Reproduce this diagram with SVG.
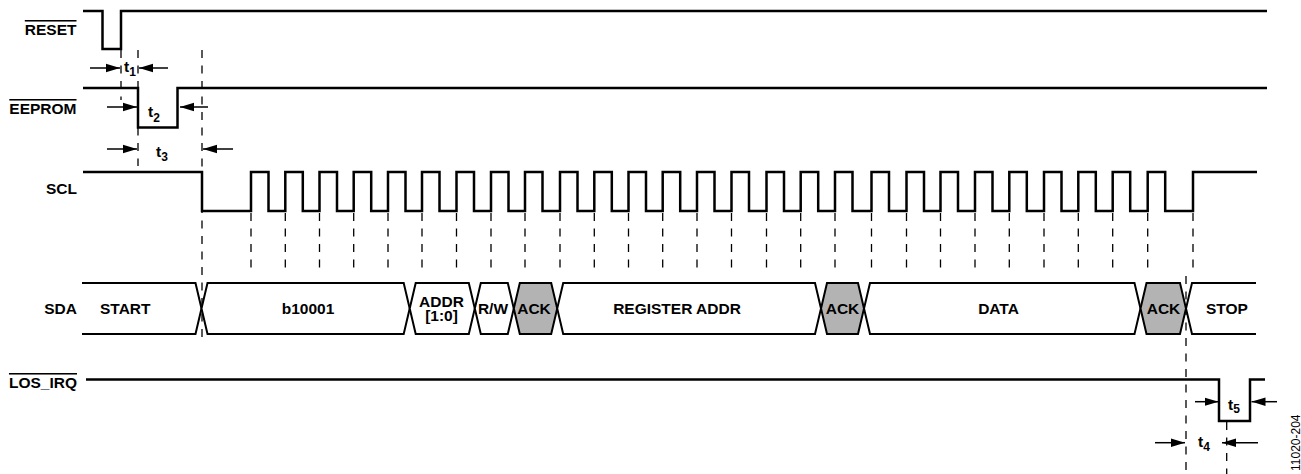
<svg xmlns="http://www.w3.org/2000/svg" width="1301" height="474" viewBox="0 0 1301 474">
<style>
.lbl{font-family:"Liberation Sans",Arial,sans-serif;font-weight:bold;font-size:15.5px;fill:#000}
.r{text-anchor:end}
.m{text-anchor:middle}
.ov{text-decoration:overline}
.sub{font-size:12px}
.sig{fill:none;stroke:#000;stroke-width:2.5;stroke-linejoin:miter}
.bus{fill:#fff;stroke:#000;stroke-width:2;stroke-linejoin:miter}
.ack{fill:#b3b3b3}
.dash{fill:none;stroke:#000;stroke-width:1.3;stroke-dasharray:8 7.5}
.arr{fill:none;stroke:#000;stroke-width:1.5;marker-end:url(#ah)}
.code{font-family:"Liberation Sans",Arial,sans-serif;font-size:12px;fill:#000}
</style>
<defs>
<marker id="ah" markerUnits="userSpaceOnUse" markerWidth="14" markerHeight="10" refX="14" refY="5" orient="auto">
<path d="M0,0.8 L14,5 L0,9.2 Z" fill="#000"/>
</marker>
</defs>
<rect width="1301" height="474" fill="#fff"/>

<g id="reset">
<text class="lbl r ov" x="76.5" y="35">RESET</text>
<path class="sig" d="M83,11 H102.5 V49 H121 V11 H1267"/>
</g>

<g id="eeprom">
<text class="lbl r ov" x="76.5" y="114">EEPROM</text>
<path class="sig" d="M83,88 H138 V127.5 H177.5 V88 H1267"/>
</g>

<g id="scl">
<text class="lbl r" x="77" y="194">SCL</text>
<path class="sig" d="M83,172 H202 V211 H251 V172 H268.5 V211 H285.3 V172 H302.8 V211 H319.5 V172 H337 V211 H353.7 V172 H371.2 V211 H388 V172 H405.5 V211 H422 V172 H439.5 V211 H456.5 V172 H474 V211 H491 V172 H508.5 V211 H525 V172 H542.5 V211 H560 V172 H577.5 V211 H594.3 V172 H611.8 V211 H628.5 V172 H646 V211 H662.7 V172 H680.2 V211 H697 V172 H714.5 V211 H731.5 V172 H749 V211 H766.5 V172 H784 V211 H800.7 V172 H818.2 V211 H835 V172 H852.5 V211 H871.5 V172 H889 V211 H906.5 V172 H924 V211 H940.5 V172 H958 V211 H975 V172 H992.5 V211 H1009.3 V172 H1026.8 V211 H1044 V172 H1061.5 V211 H1078.3 V172 H1095.8 V211 H1112.7 V172 H1130.2 V211 H1147.7 V172 H1165.2 V211 H1193 V172 H1257"/>
</g>

<g id="sda">
<text class="lbl r" x="77" y="314">SDA</text>
<g id="seg-start"><path class="bus" d="M82,283 H195.5 L201.5,308.5 L195.5,334 H82" fill="none"/><text class="lbl" x="100" y="314">START</text></g>
<g id="seg-b10001"><path class="bus" d="M207.5,283 H403.7 L409.7,308.5 L403.7,334 H207.5 L201.5,308.5 Z"/><text class="lbl m" x="308" y="314">b10001</text></g>
<g id="seg-addr"><path class="bus" d="M415.7,283 H468.8 L474.8,308.5 L468.8,334 H415.7 L409.7,308.5 Z"/><text class="lbl m" x="441.5" y="306.5">ADDR</text><text class="lbl m" x="441.5" y="321">[1:0]</text></g>
<g id="seg-rw"><path class="bus" d="M480.8,283 H507.8 L513.8,308.5 L507.8,334 H480.8 L474.8,308.5 Z"/><text class="lbl m" x="493" y="314">R/W</text></g>
<g id="seg-ack1"><path class="bus ack" d="M519.8,283 H551.2 L557.2,308.5 L551.2,334 H519.8 L513.8,308.5 Z"/><text class="lbl m" x="534" y="314">ACK</text></g>
<g id="seg-regaddr"><path class="bus" d="M563.2,283 H815 L821,308.5 L815,334 H563.2 L557.2,308.5 Z"/><text class="lbl m" x="677" y="314">REGISTER ADDR</text></g>
<g id="seg-ack2"><path class="bus ack" d="M827,283 H858 L864,308.5 L858,334 H827 L821,308.5 Z"/><text class="lbl m" x="842.5" y="314">ACK</text></g>
<g id="seg-data"><path class="bus" d="M870,283 H1134.5 L1140.5,308.5 L1134.5,334 H870 L864,308.5 Z"/><text class="lbl m" x="998.5" y="314">DATA</text></g>
<g id="seg-ack3"><path class="bus ack" d="M1146.5,283 H1180 L1186,308.5 L1180,334 H1146.5 L1140.5,308.5 Z"/><text class="lbl m" x="1163.5" y="314">ACK</text></g>
<g id="seg-stop"><path class="bus" d="M1256,283 H1192 L1186,308.5 L1192,334 H1256" fill="none"/><text class="lbl m" x="1227" y="314">STOP</text></g>
</g>

<g id="losirq">
<text class="lbl r ov" x="77" y="388">LOS_IRQ</text>
<path class="sig" d="M86,379.5 H1219 V421 H1250 V379.5 H1265"/>
</g>

<g id="connectors">
<path class="dash" d="M121,50 V100 M138,50 V166 M202,50 V341"/>
<path class="dash" d="M251,213 V272 M285.3,213 V272 M319.5,213 V272 M353.7,213 V272 M388,213 V272 M422,213 V272 M456.5,213 V272 M491,213 V272 M525,213 V272 M560,213 V272 M594.3,213 V272 M628.5,213 V272 M662.7,213 V272 M697,213 V272 M731.5,213 V272 M766.5,213 V272 M800.7,213 V272 M835,213 V272 M871.5,213 V272 M906.5,213 V272 M940.5,213 V272 M975,213 V272 M1009.3,213 V272 M1044,213 V272 M1078.3,213 V272 M1112.7,213 V272 M1147.7,213 V272 M1193,213 V272"/>
<path class="dash" d="M1186,276 V474 M1226.7,422 V474"/>
<line class="arr" x1="90" y1="68" x2="120" y2="68"/>
<line class="arr" x1="168" y1="68" x2="139" y2="68"/>
<line class="arr" x1="107" y1="107" x2="137" y2="107"/>
<line class="arr" x1="208" y1="107" x2="180" y2="107"/>
<line class="arr" x1="107" y1="149" x2="137" y2="149"/>
<line class="arr" x1="233" y1="149" x2="203" y2="149"/>
<line class="arr" x1="1195" y1="401.7" x2="1218.5" y2="401.7"/>
<line class="arr" x1="1277" y1="401.7" x2="1251.5" y2="401.7"/>
<line class="arr" x1="1155" y1="442.7" x2="1185" y2="442.7"/>
<line class="arr" x1="1258" y1="442.7" x2="1222" y2="442.7"/>
</g>

<g id="timing-labels">
<text class="lbl" x="124" y="72">t<tspan class="sub" dy="4">1</tspan></text>
<text class="lbl" x="148" y="117">t<tspan class="sub" dy="4.5">2</tspan></text>
<text class="lbl" x="156" y="156.5">t<tspan class="sub" dy="4.5">3</tspan></text>
<text class="lbl" x="1228" y="410">t<tspan class="sub" dy="2.5">5</tspan></text>
<text class="lbl" x="1198" y="446.5">t<tspan class="sub" dy="4.5">4</tspan></text>
</g>

<text class="code" transform="translate(1299.5,471) rotate(-90)">11020-204</text>
</svg>
